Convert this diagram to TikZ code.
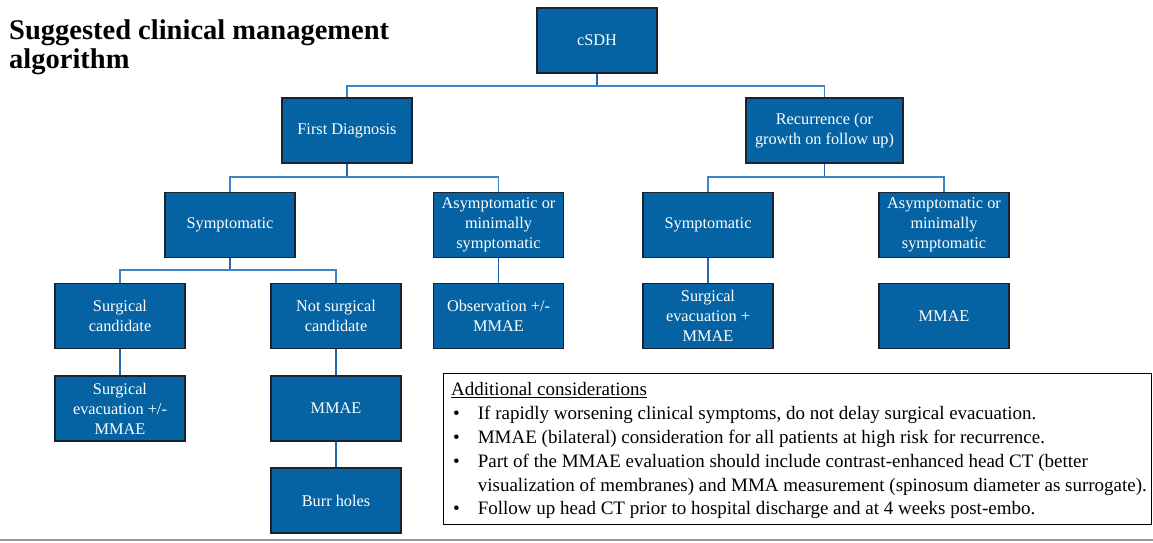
\documentclass[tikz,border=0pt]{standalone}
\usepackage{fontspec}
\setmainfont{Liberation Serif}
\definecolor{boxblue}{HTML}{0563A3}
\definecolor{boxline}{HTML}{1A2430}
\definecolor{connblue}{HTML}{3F82C6}
\definecolor{darkconn}{HTML}{2168B0}
\begin{document}
\begin{tikzpicture}[x=1pt,y=-1pt,
  box/.style={draw=boxline, line width=1.3pt, fill=boxblue, text=white,
    minimum width=130pt, minimum height=65pt, align=center, inner sep=2pt,
    font=\fontsize{16.3}{20}\selectfont},
  stem/.style={draw=darkconn, line width=1.6pt},
  branch/.style={draw=connblue, line width=1.6pt},
  titletext/.style={anchor=base west, inner sep=0pt, font=\fontsize{28.5}{30}\selectfont\bfseries}]
\useasboundingbox (0,0) rectangle (1153,542);
% title
\node[titletext] (title1) at (9,39) {Suggested clinical management};
\node[titletext] (title2) at (9,68) {algorithm};
% nodes
\node[box, minimum width=120pt] (csdh) at (597,40.5) {cSDH};
\node[box] (first) at (347,130.5) {First Diagnosis};
\node[box, minimum width=157pt] (rec) at (824.5,130.5) {Recurrence (or\\growth on follow up)};
\node[box] (symL) at (230,225) {Symptomatic};
\node[box] (asymL) at (498.5,225) {Asymptomatic or\\minimally\\symptomatic};
\node[box] (symR) at (708,225) {Symptomatic};
\node[box] (asymR) at (944,225) {Asymptomatic or\\minimally\\symptomatic};
\node[box] (surgc) at (120,316) {Surgical\\candidate};
\node[box] (notsurg) at (336,316) {Not surgical\\candidate};
\node[box] (obs) at (498.5,316) {Observation +/-\\MMAE};
\node[box] (surgevR) at (708,316) {Surgical\\evacuation +\\MMAE};
\node[box] (mmaeR) at (944,316) {MMAE};
\node[box] (surgevL) at (120,408.5) {Surgical\\evacuation +/-\\MMAE};
\node[box] (mmaeM) at (336,408.5) {MMAE};
\node[box] (burr) at (336,500.5) {Burr holes};
% connectors
\coordinate (j1) at (597,86);
\draw[stem] (csdh.south) -- (j1);
\draw[branch] (first.north) -- (first.north |- j1) -- (rec.north |- j1) -- (rec.north);
\coordinate (j2) at (347,177);
\draw[stem] (first.south) -- (j2);
\draw[branch] (symL.north) -- (symL.north |- j2) -- (asymL.north |- j2) -- (asymL.north);
\coordinate (j3) at (824.5,177);
\draw[stem] (rec.south) -- (j3);
\draw[branch] (symR.north) -- (symR.north |- j3) -- (asymR.north |- j3) -- (asymR.north);
\coordinate (j4) at (230,270);
\draw[stem] (symL.south) -- (j4);
\draw[branch] (surgc.north) -- (surgc.north |- j4) -- (notsurg.north |- j4) -- (notsurg.north);
\draw[stem] (asymL.south) -- (obs.north);
\draw[stem] (symR.south) -- (surgevR.north);
\draw[stem] (surgc.south) -- (surgevL.north);
\draw[stem] (notsurg.south) -- (mmaeM.north);
\draw[stem] (mmaeM.south) -- (burr.north);
% considerations
\node[draw=black, line width=1.1pt, fill=white, anchor=north west,
  minimum width=708pt, minimum height=151pt, inner sep=0pt] (consbox) at (443,373) {};
\node[anchor=north west, inner sep=0pt, font=\fontsize{19}{23.9}\selectfont] (cons) at (451,378.5)
{\begin{tabular}{@{}l@{\hspace{18pt}}l@{}}
\multicolumn{2}{@{}l}{\underline{Additional considerations}}\\
\hspace{2pt}\textbullet & If rapidly worsening clinical symptoms, do not delay surgical evacuation.\\
\hspace{2pt}\textbullet & MMAE (bilateral) consideration for all patients at high risk for recurrence.\\
\hspace{2pt}\textbullet & Part of the MMAE evaluation should include contrast-enhanced head CT (better\\
 & visualization of membranes) and MMA measurement (spinosum diameter as surrogate).\\
\hspace{2pt}\textbullet & Follow up head CT prior to hospital discharge and at 4 weeks post-embo.
\end{tabular}};
% bottom rule
\coordinate (bl) at (0,540);
\coordinate (br) at (1153,540);
\draw[draw=gray!80, line width=1.5pt] (bl) -- (br);
\end{tikzpicture}
\end{document}
